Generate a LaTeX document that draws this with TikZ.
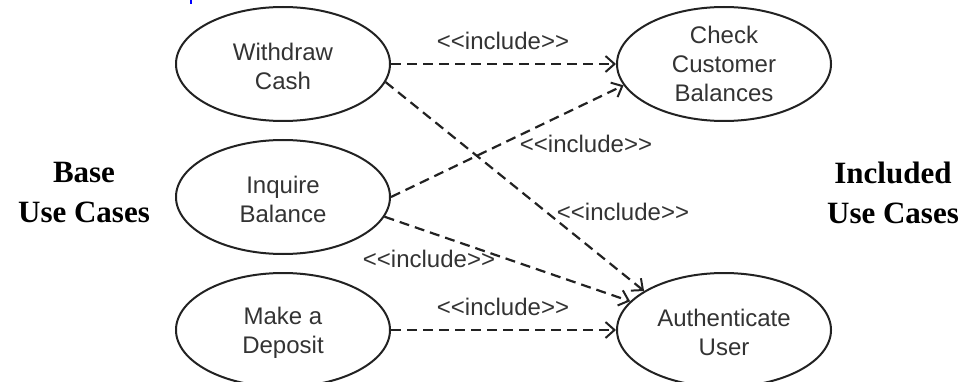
\documentclass[tikz,border=0pt]{standalone}
\usepackage{fontspec}
\setmainfont{Liberation Sans}
\newfontfamily\headfont{Liberation Serif}
\usetikzlibrary{shapes.geometric,arrows.meta}

\definecolor{inkline}{HTML}{222222}
\definecolor{inktext}{HTML}{333333}

% stereotype text, kept free of the << >> guillemet ligature
\newcommand{\inclstereo}{<{}<include>{}>}
% taller first line, lowers two-line captions a little
\newcommand{\capstrut}{\rule{0pt}{23pt}}

\begin{document}
\begin{tikzpicture}[x=1pt,y=-1pt,
  usecase/.style={ellipse,draw=inkline,line width=2pt,
    minimum width=214pt,minimum height=114pt,inner sep=0pt,
    align=center,text=inktext,font=\fontsize{24}{29}\selectfont},
  incl/.style={draw=inkline,line width=2.2pt,dash pattern=on 10pt off 6pt,
    -{Straight Barb[length=9pt,width=16pt,line width=2pt]}},
  lbl/.style={anchor=base,inner sep=0pt,text=inktext,
    font=\fontsize{24}{24}\selectfont},
  sidehead/.style={align=center,inner sep=0pt,text=black,
    font=\headfont\bfseries\fontsize{31}{40}\selectfont}
]
\useasboundingbox (0,0) rectangle (965,382);

% small blue mark at the top edge
\draw[blue,line width=2pt] (191,0) -- (191,4);

% base use cases
\node[usecase] (wc) at (283,64)  {\capstrut Withdraw\\Cash};
\node[usecase] (ib) at (283,197) {\capstrut Inquire\\Balance};
\node[usecase] (md) at (283,330) {\capstrut Make a\\Deposit};

% included use cases
\node[usecase] (ccb) at (724,64)  {Check\\Customer\\Balances};
\node[usecase] (au)  at (724,330) {\capstrut Authenticate\\User};

% side headings
\node[sidehead] (basehd) at (84,193) {Base\\Use Cases};
\node[sidehead] (inclhd) at (893,193) {Included\\Use Cases};

% include relations
\draw[incl] (wc.east) -- (ccb.west);
\draw[incl] (wc.-10) -- (au.154);
\draw[incl] (ib.east) -- (ccb.192);
\draw[incl] (ib.-11) -- (au.163);
\draw[incl] (md.east) -- (au.west);

% relation labels
\node[lbl] (l1) at (503,50)  {\inclstereo};
\node[lbl] (l2) at (623,220) {\inclstereo};
\node[lbl] (l3) at (586,153) {\inclstereo};
\node[lbl] (l4) at (429,267) {\inclstereo};
\node[lbl] (l5) at (503,315) {\inclstereo};
\end{tikzpicture}
\end{document}
